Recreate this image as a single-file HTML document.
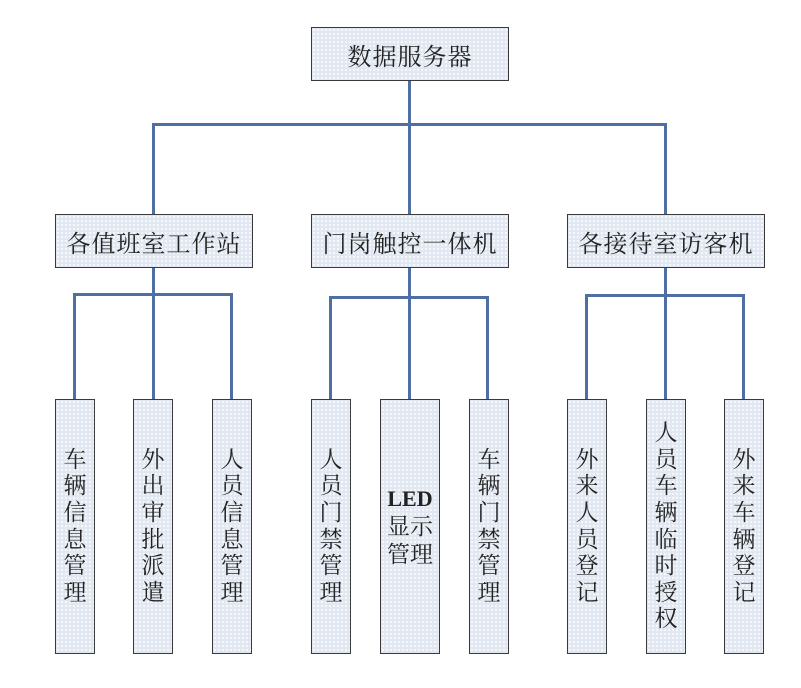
<!DOCTYPE html>
<html><head><meta charset="utf-8"><style>
body{margin:0;width:801px;height:688px;background:#fff;position:relative;overflow:hidden;font-family:"Liberation Serif","Noto Serif CJK SC","Noto Sans CJK SC",serif;color:#222}
.b{position:absolute;box-sizing:border-box;border:1.5px solid #3a3a3a;background:#e1e8f2;background-image:radial-gradient(#f6f8fb 1px,transparent 1.3px);background-size:4px 4px;display:flex;align-items:center;justify-content:center;text-align:center}
.h{font-size:24px;letter-spacing:1px}
.v{font-size:23px;line-height:26.6px}
.l{position:absolute;background:#4f6fa3}
</style></head><body>
<div class="l" style="left:408px;top:80px;width:3px;height:134px"></div>
<div class="l" style="left:152px;top:123px;width:515px;height:3px"></div>
<div class="l" style="left:152px;top:123px;width:3px;height:91px"></div>
<div class="l" style="left:664px;top:123px;width:3px;height:91px"></div>

<div class="l" style="left:152px;top:267px;width:3px;height:132px"></div>
<div class="l" style="left:73px;top:293px;width:160px;height:3px"></div>
<div class="l" style="left:73px;top:293px;width:3px;height:106px"></div>
<div class="l" style="left:230px;top:293px;width:3px;height:106px"></div>

<div class="l" style="left:408px;top:267px;width:3px;height:132px"></div>
<div class="l" style="left:329px;top:296px;width:160px;height:3px"></div>
<div class="l" style="left:329px;top:296px;width:3px;height:103px"></div>
<div class="l" style="left:486px;top:296px;width:3px;height:103px"></div>

<div class="l" style="left:664px;top:267px;width:3px;height:132px"></div>
<div class="l" style="left:585px;top:294px;width:160px;height:3px"></div>
<div class="l" style="left:585px;top:294px;width:3px;height:105px"></div>
<div class="l" style="left:742px;top:294px;width:3px;height:105px"></div>

<div class="b h" style="left:311px;top:27px;width:198px;height:54px">数据服务器</div>
<div class="b h" style="left:55px;top:214px;width:198px;height:54px">各值班室工作站</div>
<div class="b h" style="left:311px;top:214px;width:198px;height:54px">门岗触控一体机</div>
<div class="b h" style="left:567px;top:214px;width:198px;height:54px">各接待室访客机</div>

<div class="b v" style="left:55px;top:399px;width:40px;height:255px">车<br>辆<br>信<br>息<br>管<br>理</div>
<div class="b v" style="left:133px;top:399px;width:40px;height:255px">外<br>出<br>审<br>批<br>派<br>遣</div>
<div class="b v" style="left:212px;top:399px;width:40px;height:255px">人<br>员<br>信<br>息<br>管<br>理</div>
<div class="b v" style="left:311px;top:399px;width:40px;height:255px">人<br>员<br>门<br>禁<br>管<br>理</div>
<div class="b v" style="left:380px;top:399px;width:60px;height:255px;line-height:28px"><span><b style="font-size:22px">LED</b><br>显示<br>管理</span></div>
<div class="b v" style="left:469px;top:399px;width:40px;height:255px">车<br>辆<br>门<br>禁<br>管<br>理</div>
<div class="b v" style="left:567px;top:399px;width:40px;height:255px">外<br>来<br>人<br>员<br>登<br>记</div>
<div class="b v" style="left:646px;top:399px;width:40px;height:255px">人<br>员<br>车<br>辆<br>临<br>时<br>授<br>权</div>
<div class="b v" style="left:724px;top:399px;width:40px;height:255px">外<br>来<br>车<br>辆<br>登<br>记</div>
</body></html>
